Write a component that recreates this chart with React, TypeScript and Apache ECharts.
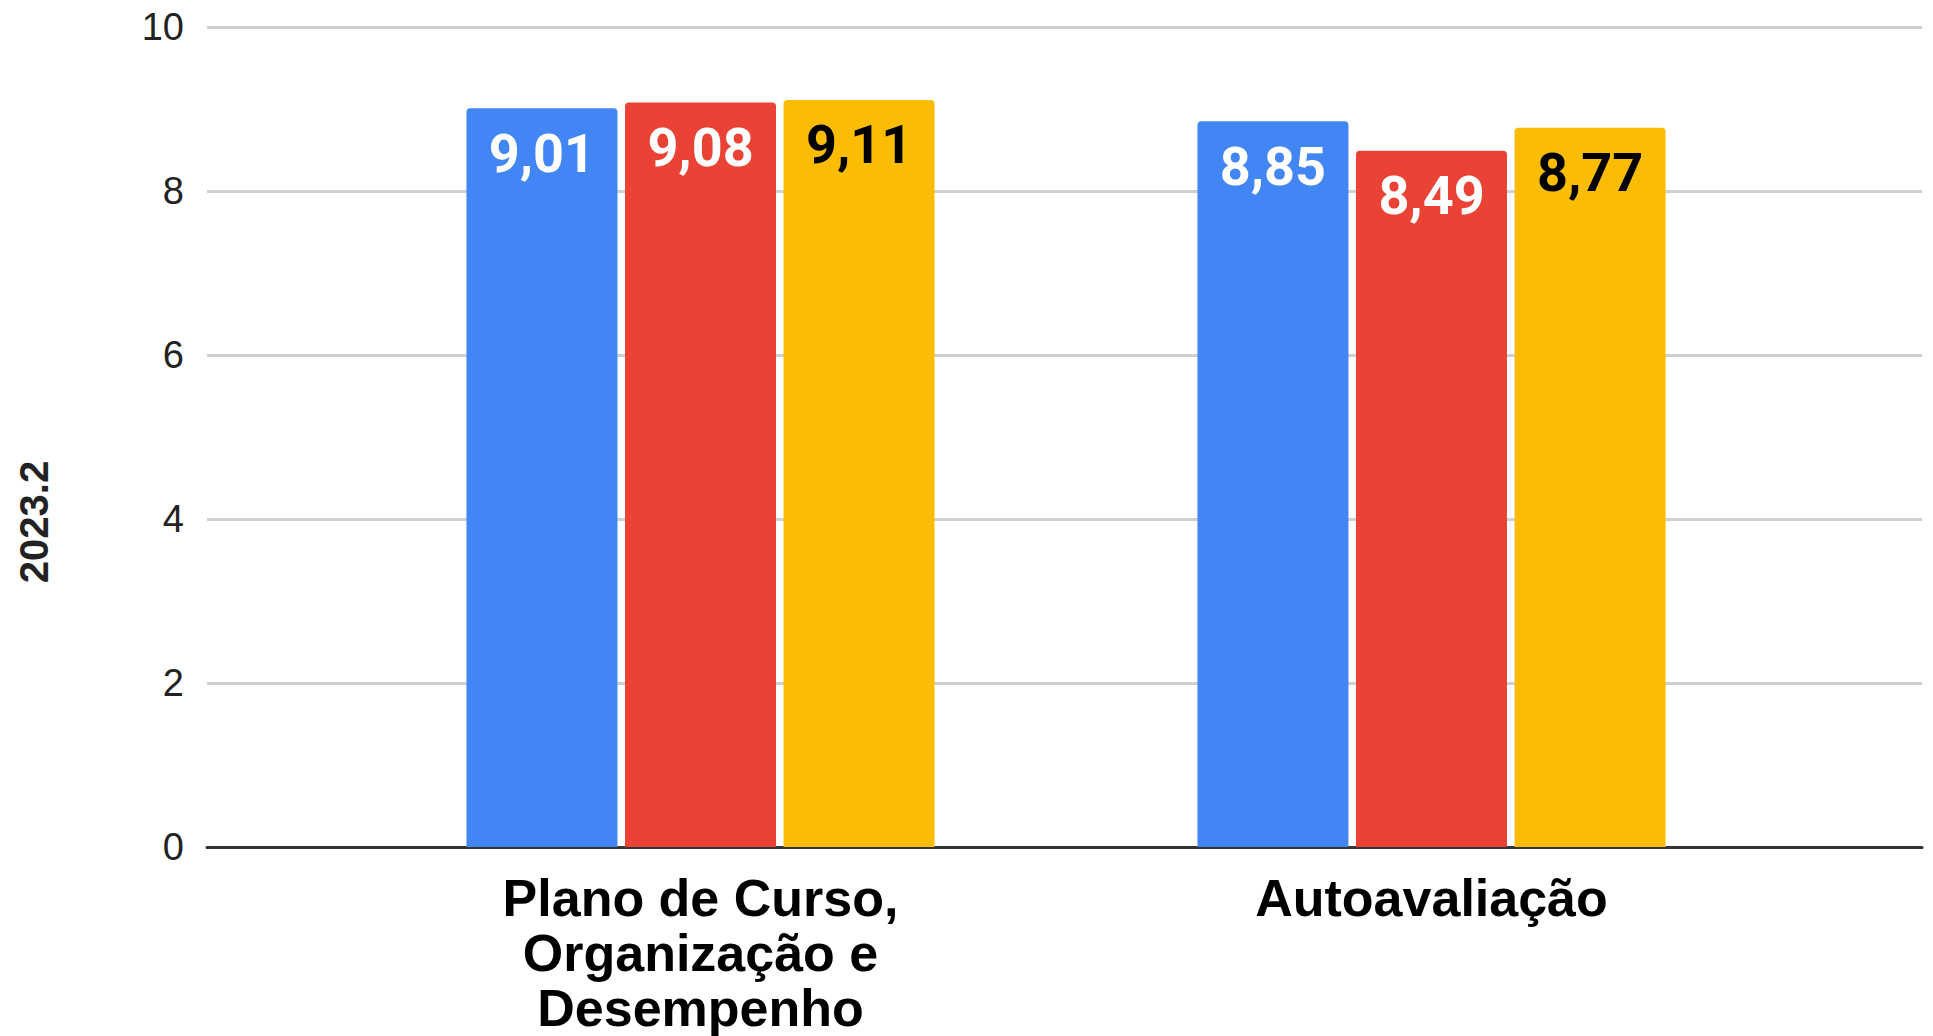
import React, { useEffect, useRef } from "react";
import * as echarts from "echarts";

const categories = ["Plano de Curso,\nOrganização e\nDesempenho", "Autoavaliação"];
const seriesNames = ["Série 1", "Série 2", "Série 3"];
const serieAzul = [9.01, 8.85];
const serieVermelha = [9.08, 8.49];
const serieAmarela = [9.11, 8.77];
const yTitle = "2023.2";

const colors = ["#4285f4", "#ea4335", "#fbbc04"];
const labelColors = ["#ffffff", "#ffffff", "#000000"];

export default function App() {
  const ref = useRef<HTMLDivElement>(null);
  useEffect(() => {
    if (!ref.current) return;
    const chart = echarts.init(ref.current, null, { renderer: "svg" });
    const data = [serieAzul, serieVermelha, serieAmarela];
    const fmt = (p: any) => Number(p.value).toFixed(2).replace(".", ",");
    chart.setOption({
      animation: false,
      backgroundColor: "#ffffff",
      grid: [
        { left: 207, right: 11, top: 27, bottom: 189 },
        { left: 335, right: 136, top: 27, bottom: 189 },
      ],
      xAxis: [
        {
          type: "value",
          gridIndex: 0,
          min: 0,
          max: 1,
          axisLine: { show: true, lineStyle: { color: "#333333", width: 3 } },
          axisTick: { show: false },
          axisLabel: { show: false },
          splitLine: { show: false },
        },
        {
          type: "category",
          gridIndex: 1,
          data: categories,
          axisLine: { show: false },
          axisTick: { show: false },
          axisLabel: {
            fontFamily: "Liberation Sans, Arial, sans-serif",
            fontWeight: "bold",
            fontSize: 52,
            lineHeight: 55,
            color: "#000000",
            margin: 23,
            interval: 0,
          },
        },
      ],
      yAxis: [
        {
          type: "value",
          gridIndex: 0,
          min: 0,
          max: 10,
          interval: 2,
          axisLine: { show: false },
          axisTick: { show: false },
          axisLabel: {
            fontFamily: "Liberation Sans, Arial, sans-serif",
            fontSize: 38,
            color: "#222222",
            margin: 23,
          },
          splitLine: { lineStyle: { color: "#d0d0d0", width: 3 } },
        },
        {
          type: "value",
          gridIndex: 1,
          min: 0,
          max: 10,
          interval: 2,
          show: false,
          splitLine: { show: false },
        },
      ],
      graphic: [
        {
          type: "text",
          x: 34,
          y: 522,
          rotation: Math.PI / 2,
          style: {
            text: yTitle,
            textAlign: "center",
            textVerticalAlign: "middle",
            fontFamily: "Liberation Sans, Arial, sans-serif",
            fontWeight: "bold",
            fontSize: 40,
            fill: "#222222",
          },
        },
      ],
      series: data.map((d, i) => ({
        type: "bar",
        name: seriesNames[i],
        xAxisIndex: 1,
        yAxisIndex: 1,
        data: d,
        barWidth: 151,
        barGap: "5%",
        itemStyle: { color: colors[i], borderRadius: [4, 4, 0, 0] },
        label: {
          show: true,
          position: "insideTop",
          distance: 18,
          formatter: fmt,
          fontFamily: "Roboto, sans-serif",
          fontWeight: "bold",
          fontSize: 54,
          lineHeight: 54,
          color: labelColors[i],
        },
      })),
    });
    return () => chart.dispose();
  }, []);
  return (
    <div
      ref={ref}
      style={{ position: "absolute", left: 0, top: 0, width: 1933, height: 1036 }}
    />
  );
}
